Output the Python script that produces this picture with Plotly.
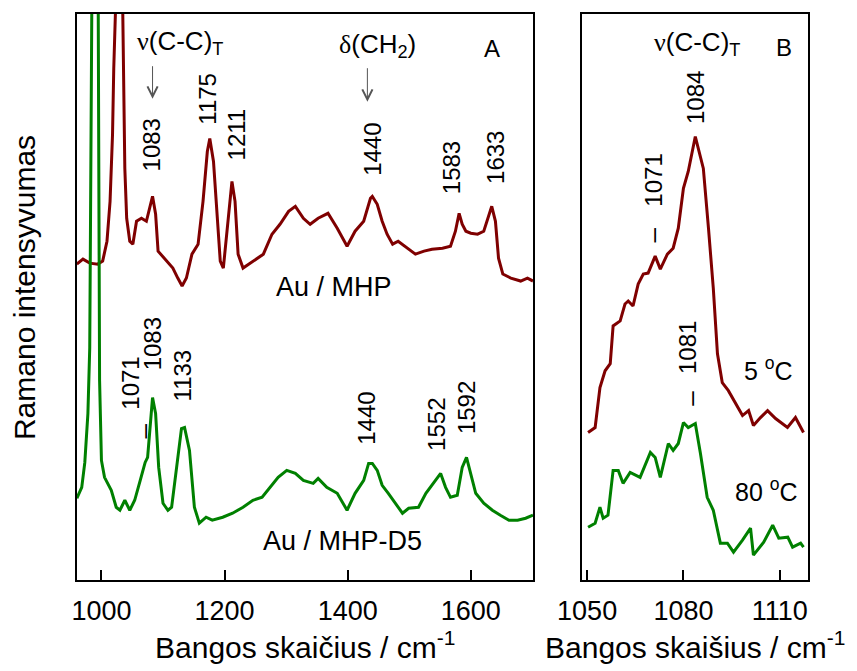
import plotly.graph_objects as go

# ---------------- data (arbitrary intensity units) ----------------
wn_mhp = [960, 970, 981, 994, 1002, 1009, 1014, 1018, 1020, 1023, 1025.5, 1028, 1031, 1034, 1035.5,
          1038, 1041, 1046, 1051, 1057, 1065, 1073, 1083, 1088, 1092, 1106, 1116, 1124, 1131, 1138,
          1147, 1157, 1165, 1172, 1176, 1182, 1188, 1193, 1198, 1204, 1212, 1217, 1222, 1230, 1247,
          1263, 1277, 1290, 1304, 1315, 1328, 1339, 1352, 1368, 1383, 1399, 1412, 1426, 1437, 1440,
          1448, 1456, 1464, 1473, 1482, 1497, 1510, 1524, 1537, 1554, 1567, 1575, 1581, 1586, 1592,
          1600, 1611, 1621, 1629, 1634, 1640, 1645, 1652, 1665, 1681, 1692, 1701]
int_mhp = [317, 322, 318, 317, 320, 340, 380, 447, 513, 575, 850, 1050, 850, 600, 513,
           413, 363, 340, 337, 360, 363, 360, 385, 367, 330, 320, 313, 303, 295, 303,
           327, 337, 380, 430, 443, 420, 363, 320, 313, 353, 400, 380, 327, 313, 320,
           327, 347, 357, 370, 375, 363, 357, 363, 368, 353, 335, 350, 360, 383, 385,
           377, 360, 347, 337, 340, 333, 327, 330, 332, 333, 335, 350, 368, 357, 350,
           348, 347, 350, 367, 375, 360, 323, 307, 303, 300, 303, 300]

wn_d5 = [960, 968, 973, 978, 981, 984.3, 987, 989.5, 992, 994.8, 997, 1000, 1005, 1016, 1024,
         1030, 1038, 1046, 1054, 1063, 1071, 1075, 1083, 1088, 1093, 1100, 1108, 1114, 1122, 1130,
         1135, 1143, 1151, 1159, 1170, 1180, 1197, 1213, 1230, 1246, 1261, 1274, 1287, 1301, 1315,
         1328, 1344, 1352, 1366, 1383, 1399, 1412, 1426, 1434, 1440, 1448, 1456, 1466, 1477, 1489,
         1499, 1515, 1527, 1537, 1551, 1559, 1567, 1578, 1586, 1593, 1600, 1608, 1621, 1635, 1648,
         1662, 1676, 1689, 1701]
int_d5 = [82, 93, 118, 167, 233, 570, 1000, 1200, 1000, 570, 200, 120, 103, 90, 73,
          70, 80, 70, 80, 100, 118, 123, 183, 167, 113, 77, 70, 73, 113, 152,
          153, 130, 73, 57, 63, 60, 63, 67, 73, 80, 83, 93, 103, 110, 107,
          100, 97, 102, 93, 87, 70, 87, 100, 117, 117, 110, 95, 87, 77, 67,
          72, 73, 87, 95, 107, 93, 83, 85, 113, 123, 107, 87, 77, 70, 65,
          60, 60, 62, 65]

wn_5c = [1050.3, 1052.5, 1054, 1055.6, 1057.2, 1058.1, 1060.3, 1061.8, 1062.8, 1064.3, 1065.9,
         1067.5, 1069, 1071.2, 1072.8, 1075, 1076.8, 1078.4, 1080, 1081.5, 1083.7, 1086.2, 1087.8,
         1089.3, 1090.6, 1092.1, 1094, 1096.2, 1098.4, 1100.3, 1101.8, 1104, 1106.2, 1108.7,
         1112.4, 1114.9, 1117.4]
int_5c = [148, 153, 193, 210, 217, 255, 260, 277, 280, 275, 297,
          307, 308, 325, 312, 327, 333, 353, 393, 410, 445, 413, 353,
          293, 227, 198, 190, 177, 165, 170, 155, 163, 170, 162,
          153, 163, 148]

wn_80c = [1050.3, 1052.5, 1054, 1055, 1056.5, 1058.1, 1059.7, 1061.2, 1063.4, 1066.5, 1069.7,
          1071.2, 1072.8, 1075.3, 1076.8, 1078.4, 1080, 1081.5, 1083.7, 1085.3, 1087.4, 1089.3,
          1091.5, 1093.7, 1095.6, 1098.4, 1100.9, 1101.8, 1105, 1107.8, 1109.7, 1112.5, 1114,
          1116.5, 1117.4]
int_80c = [53, 57, 73, 62, 65, 110, 110, 97, 108, 103, 128,
           123, 103, 137, 130, 137, 158, 153, 157, 127, 83, 70,
           37, 37, 28, 40, 52, 25, 38, 55, 42, 43, 33,
           37, 33]

ticks_a = [1000, 1200, 1400, 1600]
ticks_b = [1050, 1080, 1110]

# peak labels: (text, x, y)
labels_a = [("1083", 1082, 437), ("1175", 1173, 483), ("1211", 1220, 447), ("1440", 1440, 432),
            ("1583", 1569, 414), ("1633", 1640, 424),
            ("1071", 1048, 198), ("1083", 1083, 237), ("1133", 1132, 205), ("1440", 1430, 162),
            ("1552", 1544, 156), ("1592", 1593, 173)]
labels_b = [("1084", 1083.7, 484), ("1071", 1070.6, 401), ("1081", 1081.5, 233)]
dash_a = [(1069, 150)]
dash_b = [(1070.6, 346), (1082.1, 182)]

RED = "#7f0000"
GREEN = "#008000"
FONT = "Liberation Sans"

fig = go.Figure()
fig.add_trace(go.Scatter(x=wn_mhp, y=int_mhp, mode="lines", line=dict(color=RED, width=3),
                         xaxis="x", yaxis="y", showlegend=False))
fig.add_trace(go.Scatter(x=wn_d5, y=int_d5, mode="lines", line=dict(color=GREEN, width=3),
                         xaxis="x", yaxis="y", showlegend=False))
fig.add_trace(go.Scatter(x=wn_5c, y=int_5c, mode="lines", line=dict(color=RED, width=3),
                         xaxis="x2", yaxis="y2", showlegend=False))
fig.add_trace(go.Scatter(x=wn_80c, y=int_80c, mode="lines", line=dict(color=GREEN, width=3),
                         xaxis="x2", yaxis="y2", showlegend=False))

C = dict(xanchor="center", yanchor="middle", showarrow=False)
ann = []
for t, x, y in labels_a:
    ann.append(dict(text=t, x=x, y=y, xref="x", yref="y", textangle=-90,
                    font=dict(size=24), **C))
for t, x, y in labels_b:
    ann.append(dict(text=t, x=x, y=y, xref="x2", yref="y2", textangle=-90,
                    font=dict(size=24), **C))
for x, y in dash_a:
    ann.append(dict(text="–", x=x, y=y, xref="x", yref="y", textangle=-90,
                    font=dict(size=26), **C))
for x, y in dash_b:
    ann.append(dict(text="–", x=x, y=y, xref="x2", yref="y2", textangle=-90,
                    font=dict(size=26), **C))

nu = '<span style="font-family:Liberation Serif">ν</span>(C-C)<sub>T</sub>'
delta = '<span style="font-family:Liberation Serif">δ</span>(CH<sub>2</sub>)'
ann += [
    dict(text=nu, x=1127, y=539, xref="x", yref="y", font=dict(size=26), **C),
    dict(text=delta, x=1449, y=536, xref="x", yref="y", font=dict(size=26), **C),
    dict(text="", x=1083, y=483, xref="x", yref="y", showarrow=True, ax=0, ay=-34,
         arrowhead=5, arrowsize=2, arrowwidth=1, arrowcolor="#555555"),
    dict(text="", x=1432, y=480, xref="x", yref="y", showarrow=True, ax=0, ay=-35,
         arrowhead=5, arrowsize=2, arrowwidth=1, arrowcolor="#555555"),
    dict(text="A", x=1635, y=533, xref="x", yref="y", font=dict(size=24), **C),
    dict(text="Au / MHP", x=1378, y=294, xref="x", yref="y", font=dict(size=27), **C),
    dict(text="Au / MHP-D5", x=1392, y=39, xref="x", yref="y", font=dict(size=27), **C),
    dict(text=nu, x=1084.3, y=538, xref="x2", yref="y2", font=dict(size=26), **C),
    dict(text="B", x=1111.2, y=534, xref="x2", yref="y2", font=dict(size=24), **C),
    dict(text="5 <sup>o</sup>C", x=1106.4, y=212, xref="x2", yref="y2", font=dict(size=25), **C),
    dict(text="80 <sup>o</sup>C", x=1105.9, y=90, xref="x2", yref="y2", font=dict(size=25), **C),
    dict(text="Ramano intensyvumas", x=-0.071, y=0.516, xref="paper", yref="paper",
         textangle=-90, font=dict(size=30), **C),
    dict(text="Bangos skaičius / cm<sup>-1</sup>", x=0.312, y=-0.115, xref="paper",
         yref="paper", font=dict(size=30), **C),
    dict(text="Bangos skaišius / cm<sup>-1</sup>", x=0.845, y=-0.115, xref="paper",
         yref="paper", font=dict(size=30), **C),
]

axis_common = dict(showline=True, linecolor="black", linewidth=1.5, mirror=True,
                   showgrid=False, zeroline=False)
fig.update_layout(
    width=857, height=671,
    margin=dict(l=77, r=49, t=12, b=91),
    paper_bgcolor="white", plot_bgcolor="white",
    font=dict(family=FONT, color="black"),
    xaxis=dict(domain=[0, 0.6238], range=[960.3, 1701], tickvals=ticks_a, ticks="inside",
               ticklen=10, tickwidth=1.5, tickcolor="black", tickfont=dict(size=27),
               ticklabelstandoff=6, anchor="y", **axis_common),
    yaxis=dict(domain=[0, 1], range=[0, 568], showticklabels=False, ticks="", anchor="x",
               **axis_common),
    xaxis2=dict(domain=[0.6908, 1], range=[1048.4, 1118.8], tickvals=ticks_b, ticks="inside",
                ticklen=10, tickwidth=1.5, tickcolor="black", tickfont=dict(size=27),
                ticklabelstandoff=6, anchor="y2", **axis_common),
    yaxis2=dict(domain=[0, 1], range=[0, 568], showticklabels=False, ticks="", anchor="x2",
                **axis_common),
    annotations=ann,
)

fig.write_html("out.html")
